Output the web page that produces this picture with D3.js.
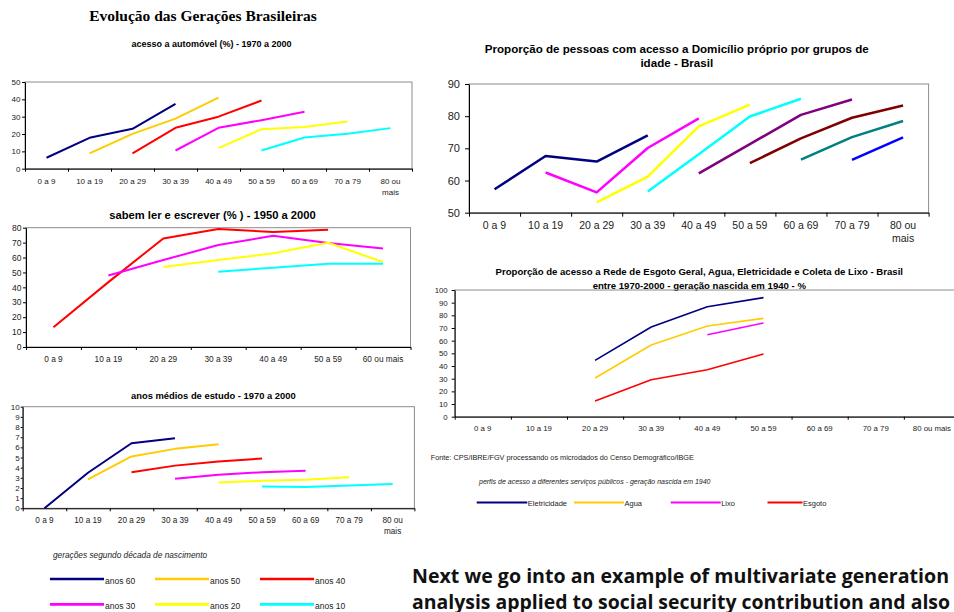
<!DOCTYPE html>
<html>
<head>
<meta charset="utf-8">
<script src="https://cdn.jsdelivr.net/npm/d3@7"></script>
<style>
  body { margin: 0; background: #fff; }
  svg { display: block; font-family: "Liberation Sans", Arial, sans-serif; }
</style>
</head>
<body>
<svg id="chart" width="954" height="612"></svg>
<script>
// ---- categories / labels
const ageGroups = ["0 a 9", "10 a 19", "20 a 29", "30 a 39", "40 a 49", "50 a 59", "60 a 69", "70 a 79", "80 ou mais"];
const ageGroupsLit = ["0 a 9", "10 a 19", "20 a 29", "30 a 39", "40 a 49", "50 a 59", "60 ou mais"];
const generations = ["anos 60", "anos 50", "anos 40", "anos 30", "anos 20", "anos 10"];
const genColors = ["#000080", "#FFCC00", "#FF0000", "#FF00FF", "#FFFF00", "#00FFFF"];
const services = ["Eletricidade", "Agua", "Lixo", "Esgoto"];
const serviceColors = ["#000080", "#FFCC00", "#FF00FF", "#FF0000"];
const homeColors = ["#000080", "#FF00FF", "#FFFF00", "#00FFFF", "#800080", "#800000", "#008080", "#0000FF"];

// ---- tick values
const autoTicks = [0, 10, 20, 30, 40, 50];
const litTicks = [0, 10, 20, 30, 40, 50, 60, 70, 80];
const schoolTicks = [0, 1, 2, 3, 4, 5, 6, 7, 8, 9, 10];
const homeTicks = [50, 60, 70, 80, 90];
const serviceTicks = [0, 10, 20, 30, 40, 50, 60, 70, 80, 90, 100];

// ---- series values (one row per generation, null = no data)
const autoValues = [
  [6.3, 17.8, 23.0, 37.4, null, null, null, null, null],
  [null, 8.8, 20.1, 28.9, 41.0, null, null, null, null],
  [null, null, 8.8, 23.6, 30.0, 39.3, null, null, null],
  [null, null, null, 10.5, 23.6, 28.0, 32.8, null, null],
  [null, null, null, null, 11.9, 22.8, 24.1, 27.2, null],
  [null, null, null, null, null, 10.5, 18.0, 20.1, 23.4]
];
// literacy: anos 40, 30, 20, 10
const litValues = [
  [13.2, 43.5, 72.8, 79.1, 77.1, 78.7, null],
  [null, 48.0, 58.3, 68.4, 74.6, 69.7, 66.1],
  [null, null, 53.6, 58.3, 62.8, 69.9, 57.0],
  [null, null, null, 50.5, 53.2, 55.9, 55.9]
];
const schoolValues = [
  [0.0, 3.5, 6.4, 6.9, null, null, null, null, null],
  [null, 2.85, 5.1, 5.85, 6.3, null, null, null, null],
  [null, null, 3.55, 4.2, 4.6, 4.9, null, null, null],
  [null, null, null, 2.9, 3.3, 3.55, 3.7, null, null],
  [null, null, null, null, 2.55, 2.7, 2.8, 3.05, null],
  [null, null, null, null, null, 2.15, 2.1, 2.25, 2.4]
];
const homeValues = [
  [57.3, 67.6, 65.9, 74.0, null, null, null, null, null],
  [null, 62.5, 56.3, 70.1, 79.3, null, null, null, null],
  [null, null, 53.2, 61.2, 76.8, 83.6, null, null, null],
  [null, null, null, 56.6, 68.2, 79.9, 85.4, null, null],
  [null, null, null, null, 62.2, 71.3, 80.4, 85.2, null],
  [null, null, null, null, null, 65.4, 73.1, 79.5, 83.3],
  [null, null, null, null, null, null, 66.5, 73.5, 78.5],
  [null, null, null, null, null, null, null, 66.4, 73.4]
];
const serviceValues = [
  [null, null, 44.5, 70.8, 86.8, 94.0, null, null, null],
  [null, null, 30.5, 56.6, 71.6, 77.6, null, null, null],
  [null, null, null, null, 64.7, 73.9, null, null, null],
  [null, null, 12.4, 29.2, 37.1, 49.5, null, null, null]
];

const svg = d3.select("#chart");
const FONT = "'Liberation Sans', Arial, sans-serif";

svg.append("text")
  .attr("x", 203).attr("y", 21)
  .attr("text-anchor", "middle")
  .attr("font-family", "'Liberation Serif', 'Times New Roman', serif")
  .attr("font-weight", "bold").attr("font-size", 15.5)
  .text("Evolução das Gerações Brasileiras");

function panel(p) {
  const g = svg.append("g");
  const n = p.cats.length;
  const x = d3.scaleLinear().domain([0, n]).range([p.x0, p.x1]);
  const y = d3.scaleLinear().domain(p.domain).range([p.y1, p.y0]);

  // title
  p.title.forEach((t, i) => {
    g.append("text")
      .attr("x", p.tx).attr("y", p.ty + i * p.tgap)
      .attr("text-anchor", "middle")
      .attr("font-weight", "bold").attr("font-size", p.tfs)
      .attr("fill", "#000")
      .text(t);
  });

  // plot frame
  g.append("rect")
    .attr("x", p.x0).attr("y", p.y0)
    .attr("width", p.x1 - p.x0).attr("height", p.y1 - p.y0)
    .attr("fill", "none").attr("stroke", "#8c8c8c").attr("stroke-width", 1);

  // y axis
  const ya = g.append("g")
    .attr("transform", `translate(${p.x0},0)`)
    .call(d3.axisLeft(y).tickValues(p.ticks).tickSize(p.ytick).tickPadding(p.ypad).tickSizeOuter(0));
  ya.attr("font-family", FONT).attr("font-size", p.yfs);
  ya.selectAll("line, path").attr("stroke", "#000");
  ya.selectAll("text").attr("fill", "#222");

  // x axis, ticks on category boundaries
  const xa = g.append("g")
    .attr("transform", `translate(0,${p.y1})`)
    .call(d3.axisBottom(x).tickValues(d3.range(n + 1)).tickFormat("").tickSize(p.xtick).tickSizeOuter(0));
  xa.selectAll("line, path").attr("stroke", "#000");

  // category labels
  const lab = g.append("g").attr("font-size", p.xfs).attr("fill", "#222");
  p.cats.forEach((c, i) => {
    const lines = (p.wrap && c === "80 ou mais") ? ["80 ou", "mais"] : [c];
    const t = lab.append("text")
      .attr("text-anchor", "middle")
      .attr("x", x(i + 0.5)).attr("y", p.y1 + p.loff);
    lines.forEach((l, k) => {
      t.append("tspan").attr("x", x(i + 0.5)).attr("dy", k === 0 ? 0 : p.lgap).text(l);
    });
  });

  // series
  const line = d3.line()
    .defined(d => d.v != null)
    .x(d => x(d.i + 0.5))
    .y(d => y(d.v));
  p.values.forEach((vals, k) => {
    g.append("path")
      .datum(vals.map((v, i) => ({ i, v })))
      .attr("d", line)
      .attr("fill", "none")
      .attr("stroke", p.colors[k])
      .attr("stroke-width", p.lw)
      .attr("stroke-linejoin", "round");
  });
}

// acesso a automóvel
panel({
  cats: ageGroups, wrap: true, values: autoValues, colors: genColors,
  domain: [0, 50], ticks: autoTicks,
  x0: 25, x1: 412, y0: 82, y1: 168.7,
  title: ["acesso a automóvel (%) - 1970 a 2000"], tx: 211.5, ty: 47, tgap: 0, tfs: 9,
  yfs: 8, ytick: 3, ypad: 1.5, xtick: 3, xfs: 8, loff: 15.3, lgap: 10.7, lw: 2
});

// sabem ler e escrever
panel({
  cats: ageGroupsLit, wrap: false, values: litValues, colors: genColors.slice(2),
  domain: [0, 80], ticks: litTicks,
  x0: 26, x1: 410.5, y0: 227.7, y1: 347,
  title: ["sabem ler e escrever (% ) - 1950 a 2000"], tx: 212.5, ty: 219, tgap: 0, tfs: 11.2,
  yfs: 8.5, ytick: 3, ypad: 1.5, xtick: 3, xfs: 8.3, loff: 15.3, lgap: 10.7, lw: 2
});

// anos médios de estudo
panel({
  cats: ageGroups, wrap: true, values: schoolValues, colors: genColors,
  domain: [0, 10], ticks: schoolTicks,
  x0: 22.7, x1: 414.4, y0: 406.7, y1: 508.3,
  title: ["anos médios de estudo - 1970 a 2000"], tx: 213.3, ty: 399, tgap: 0, tfs: 9.4,
  yfs: 8, ytick: 2, ypad: 1, xtick: 3, xfs: 8.2, loff: 14.7, lgap: 10.7, lw: 2
});

// domicílio próprio
panel({
  cats: ageGroups, wrap: true, values: homeValues, colors: homeColors,
  domain: [50, 90], ticks: homeTicks,
  x0: 469, x1: 928.6, y0: 84, y1: 212.7,
  title: ["Proporção de pessoas com acesso a Domicílio próprio por grupos de", "idade - Brasil"],
  tx: 676.8, ty: 53, tgap: 14.3, tfs: 11.6,
  yfs: 11, ytick: 4, ypad: 5, xtick: 4, xfs: 10.5, loff: 16.1, lgap: 13.3, lw: 2.5
});

// serviços públicos, geração 1940
panel({
  cats: ageGroups, wrap: false, values: serviceValues, colors: serviceColors,
  domain: [0, 100], ticks: serviceTicks,
  x0: 454.7, x1: 960, y0: 290, y1: 416.7,
  title: ["Proporção de acesso a Rede de Esgoto Geral, Agua, Eletricidade e Coleta de Lixo - Brasil",
          "entre 1970-2000 - geração nascida em 1940 - %"],
  tx: 699.3, ty: 275, tgap: 14, tfs: 9.6,
  yfs: 7.8, ytick: 3, ypad: 4, xtick: 3, xfs: 7.8, loff: 14.4, lgap: 10, lw: 1.6
});

// generations legend
svg.append("text")
  .attr("x", 53).attr("y", 558)
  .attr("font-style", "italic").attr("font-size", 8.3).attr("fill", "#222")
  .text("gerações segundo década de nascimento");
const genLeg = svg.append("g");
generations.forEach((gname, i) => {
  const cx = [50, 155, 260][i % 3];
  const cy = i < 3 ? 579 : 604.3;
  genLeg.append("line")
    .attr("x1", cx).attr("x2", cx + 54).attr("y1", cy).attr("y2", cy)
    .attr("stroke", genColors[i]).attr("stroke-width", 2.7);
  genLeg.append("text")
    .attr("x", cx + 55).attr("y", cy + 4.5)
    .attr("font-size", 8.5).attr("fill", "#222")
    .text(gname);
});

// source + services legend
svg.append("text")
  .attr("x", 430.7).attr("y", 460)
  .attr("font-size", 7.3).attr("fill", "#222")
  .text("Fonte: CPS/IBRE/FGV processando os microdados do Censo Demográfico/IBGE");
svg.append("text")
  .attr("x", 479).attr("y", 483.5)
  .attr("font-style", "italic").attr("font-size", 7).attr("fill", "#222")
  .text("perfis de acesso a diferentes serviços públicos - geração nascida em 1940");
const servLeg = svg.append("g");
const servX = [476.7, 574, 670.7, 767.5];
const servLen = [50.6, 50, 50, 35];
services.forEach((s, i) => {
  servLeg.append("line")
    .attr("x1", servX[i]).attr("x2", servX[i] + servLen[i]).attr("y1", 502.5).attr("y2", 502.5)
    .attr("stroke", serviceColors[i]).attr("stroke-width", 2);
  servLeg.append("text")
    .attr("x", servX[i] + servLen[i] + 0.5).attr("y", 505.5)
    .attr("font-size", 7.5).attr("fill", "#222")
    .text(s);
});

// slide text
const note = ["Next we go into an example of multivariate generation",
              "analysis applied to social security contribution and also"];
note.forEach((t, i) => {
  svg.append("text")
    .attr("x", 412).attr("y", 583 + i * 25.5)
    .attr("font-family", "'Open Sans', sans-serif")
    .attr("font-weight", "bold").attr("font-size", 20)
    .attr("fill", "#111")
    .attr("textLength", i === 0 ? 537 : 538)
    .attr("lengthAdjust", "spacingAndGlyphs")
    .text(t);
});
</script>
</body>
</html>
